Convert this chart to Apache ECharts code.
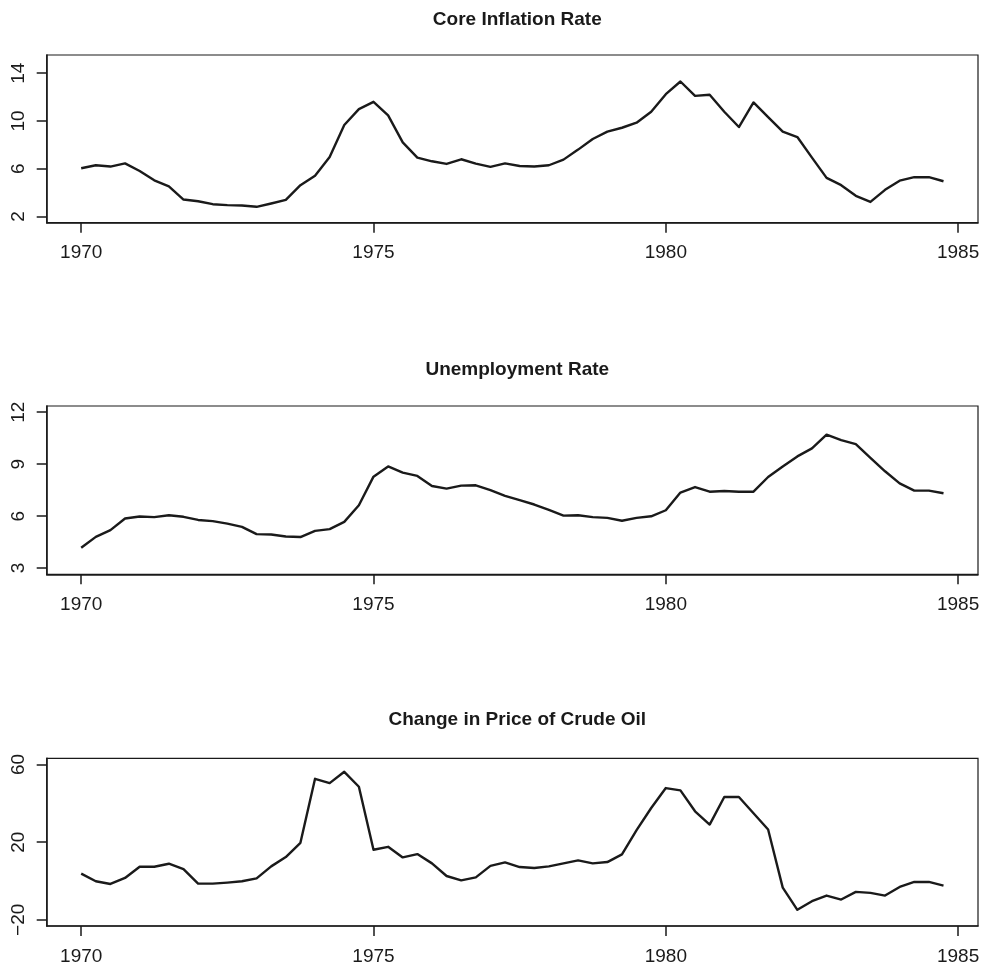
<!DOCTYPE html>
<html>
<head>
<meta charset="utf-8">
<script src="https://cdn.jsdelivr.net/npm/echarts@6/dist/echarts.min.js"></script>
<style>
html,body{margin:0;padding:0;background:#fff;}
#chart{width:986px;height:966px;}
</style>
</head>
<body>
<div id="chart"></div>
<script>
// Quarterly time positions (1970 Q1 .. 1984 Q4)
const quarters = [
  1970.00,1970.25,1970.50,1970.75,1971.00,1971.25,1971.50,1971.75,
  1972.00,1972.25,1972.50,1972.75,1973.00,1973.25,1973.50,1973.75,
  1974.00,1974.25,1974.50,1974.75,1975.00,1975.25,1975.50,1975.75,
  1976.00,1976.25,1976.50,1976.75,1977.00,1977.25,1977.50,1977.75,
  1978.00,1978.25,1978.50,1978.75,1979.00,1979.25,1979.50,1979.75,
  1980.00,1980.25,1980.50,1980.75,1981.00,1981.25,1981.50,1981.75,
  1982.00,1982.25,1982.50,1982.75,1983.00,1983.25,1983.50,1983.75,
  1984.00,1984.25,1984.50,1984.75
];

const coreInflation = [
  6.04,6.29,6.18,6.45,5.81,5.03,4.53,3.42,3.28,3.03,2.95,2.92,2.81,3.09,3.39,4.62,
  5.42,6.98,9.66,10.99,11.60,10.46,8.21,6.93,6.62,6.40,6.79,6.43,6.15,6.45,6.23,6.18,
  6.29,6.76,7.60,8.49,9.10,9.43,9.85,10.77,12.24,13.30,12.10,12.19,10.77,9.49,11.55,10.32,
  9.10,8.65,6.93,5.23,4.62,3.73,3.22,4.23,5.00,5.29,5.29,4.95
];

const unemployment = [
  4.17,4.80,5.19,5.86,5.98,5.94,6.05,5.96,5.78,5.71,5.57,5.38,4.96,4.94,4.82,4.79,
  5.15,5.25,5.67,6.63,8.28,8.87,8.51,8.32,7.74,7.59,7.76,7.78,7.50,7.17,6.92,6.67,
  6.36,6.03,6.05,5.94,5.90,5.73,5.90,5.99,6.34,7.36,7.68,7.41,7.45,7.41,7.41,8.26,
  8.87,9.45,9.91,10.70,10.39,10.16,9.37,8.59,7.89,7.47,7.47,7.32
];

const oilChange = [
  3.76,-0.17,-1.54,1.54,7.35,7.35,8.89,6.15,-1.37,-1.37,-0.85,-0.17,1.37,7.52,12.30,19.66,
  52.65,50.43,56.24,48.55,16.07,17.60,12.14,13.85,9.06,2.56,0.34,1.88,7.78,9.57,7.18,6.67,
  7.52,9.06,10.60,9.06,9.74,13.68,26.15,37.60,47.86,46.67,35.90,29.06,43.25,43.25,34.87,26.50,
  -3.42,-14.87,-10.43,-7.52,-9.57,-5.64,-6.15,-7.52,-3.08,-0.51,-0.51,-2.39
];

const titles = ['Core Inflation Rate', 'Unemployment Rate', 'Change in Price of Crude Oil'];
const xTicks = [1970, 1975, 1980, 1985];
const yTicks = [[2, 6, 10, 14], [3, 6, 9, 12], [-20, 20, 60]];
const yRanges = [[1.48, 15.52], [2.64, 12.36], [-23.2, 63.2]];
const seriesData = [coreInflation, unemployment, oilChange];

const FONT = '"Liberation Sans", Arial, Helvetica, sans-serif';
const INK = '#1a1a1a';
const gridTops = [55, 406, 758.3];
const gridHeights = [167.7, 168.3, 167.7];
const titleTops = [5, 355, 705];

const grids = [], xAxes = [], yAxes = [], series = [], titleComps = [];
for (let k = 0; k < 3; k++) {
  grids.push({
    left: 46.7, right: 8, top: gridTops[k], height: gridHeights[k],
    show: true, borderColor: INK, borderWidth: 1.2, backgroundColor: 'transparent',
    containLabel: false
  });
  titleComps.push({
    text: titles[k], left: 512.3, top: titleTops[k], textAlign: 'center',
    textStyle: { fontFamily: FONT, fontWeight: 'bold', fontSize: 19, color: INK }
  });
  xAxes.push({
    type: 'value', gridIndex: k, min: 1969.41, max: 1985.34,
    axisLine: { show: true, onZero: false, lineStyle: { color: INK, width: 1.5 } },
    axisTick: { show: true, length: 10, customValues: xTicks, lineStyle: { color: INK, width: 1.5 } },
    axisLabel: {
      customValues: xTicks, margin: 21, fontFamily: FONT, fontSize: 19, color: INK,
      formatter: v => String(Math.round(v))
    },
    splitLine: { show: false }
  });
  yAxes.push({
    type: 'value', gridIndex: k, min: yRanges[k][0], max: yRanges[k][1],
    axisLine: { show: true, onZero: false, lineStyle: { color: INK, width: 1.5 } },
    axisTick: { show: true, length: 10, customValues: yTicks[k], lineStyle: { color: INK, width: 1.5 } },
    axisLabel: {
      customValues: yTicks[k], rotate: 90, margin: 18, fontFamily: FONT, fontSize: 19, color: INK,
      formatter: v => (v < 0 ? '\u2212' + Math.abs(v) : String(v))
    },
    splitLine: { show: false }
  });
  series.push({
    type: 'line', xAxisIndex: k, yAxisIndex: k,
    data: quarters.map((q, i) => [q, seriesData[k][i]]),
    showSymbol: false, symbol: 'none',
    lineStyle: { color: INK, width: 2.4, join: 'round' },
    emphasis: { disabled: true }, silent: true
  });
}

const chart = echarts.init(document.getElementById('chart'), null, { renderer: 'canvas' });
chart.setOption({
  animation: false,
  backgroundColor: '#ffffff',
  title: titleComps,
  grid: grids,
  xAxis: xAxes,
  yAxis: yAxes,
  series: series
});
</script>
</body>
</html>
